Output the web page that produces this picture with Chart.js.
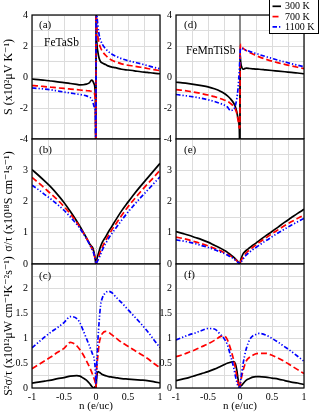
<!DOCTYPE html>
<html>
<head>
<meta charset="utf-8">
<script src="https://cdn.jsdelivr.net/npm/chart.js@4/dist/chart.umd.min.js"></script>
<style>
  html, body { margin: 0; padding: 0; background: #fff; }
  #wrap { position: relative; width: 321px; height: 414px; overflow: hidden; }
  #wrap canvas { position: absolute; left: 0; top: 0; }
</style>
</head>
<body>
<div id="wrap">
  <canvas id="pa" width="321" height="414"></canvas>
  <canvas id="pb" width="321" height="414"></canvas>
  <canvas id="pc" width="321" height="414"></canvas>
  <canvas id="pd" width="321" height="414"></canvas>
  <canvas id="pe" width="321" height="414"></canvas>
  <canvas id="pf" width="321" height="414"></canvas>
</div>
<script>
// ---------------- DATA ----------------
const tempLabels = ['300 K', '700 K', '1100 K'];
// carrier concentration n (e/uc)
const nGrid = [-1, -0.9, -0.8, -0.7, -0.6, -0.5, -0.4, -0.3, -0.25, -0.2, -0.15, -0.1, -0.07, -0.05, -0.03, -0.01, -0.002,
               0.002, 0.01, 0.03, 0.05, 0.07, 0.1, 0.15, 0.2, 0.25, 0.3, 0.4, 0.5, 0.6, 0.7, 0.8, 0.9, 1];
// Fermi level reference line
const fermiN = [0, 0];
const fermiS = [-4, 4];

// (a) FeTaSb  S (x10^2 uV/K)
const sTa300  = [-0.13,-0.17,-0.21,-0.26,-0.31,-0.36,-0.42,-0.48,-0.51,-0.5,-0.46,-0.36,-0.2,-0.26,-0.45,-1.2,-6,
                 4.5,2.6,1.6,1.2,1.0,0.9,0.8,0.7,0.64,0.6,0.5,0.45,0.4,0.34,0.3,0.25,0.21];
const sTa700  = [-0.55,-0.58,-0.62,-0.66,-0.7,-0.74,-0.78,-0.82,-0.84,-0.86,-0.88,-0.9,-0.92,-0.95,-1.05,-1.6,-6,
                 6,3.6,2.6,2.15,1.9,1.65,1.4,1.2,1.08,0.99,0.85,0.76,0.7,0.63,0.55,0.48,0.41];
const sTa1100 = [-0.71,-0.74,-0.78,-0.83,-0.9,-0.97,-1.03,-1.1,-1.13,-1.17,-1.22,-1.3,-1.42,-1.6,-1.9,-2.4,-6,
                 6,4.5,3.3,2.7,2.4,2.1,1.82,1.62,1.47,1.36,1.18,1.05,0.95,0.85,0.74,0.63,0.53];
// (d) FeMnTiSb  S
const sMn300  = [-0.34,-0.38,-0.43,-0.49,-0.56,-0.64,-0.76,-0.93,-1.05,-1.2,-1.4,-1.68,-1.95,-2.25,-2.7,-3.4,-6,
                 1.5,1.0,0.6,0.5,0.54,0.57,0.55,0.53,0.51,0.5,0.46,0.42,0.38,0.34,0.3,0.26,0.21];
const sMn700  = [-0.81,-0.86,-0.92,-0.99,-1.07,-1.16,-1.27,-1.4,-1.48,-1.56,-1.7,-1.9,-2.1,-2.35,-2.8,-3.3,-3.2,
                 1.5,2.1,1.95,1.85,1.78,1.7,1.58,1.48,1.38,1.3,1.15,1.02,0.91,0.81,0.72,0.63,0.54];
const sMn1100 = [-1.13,-1.18,-1.24,-1.3,-1.38,-1.47,-1.58,-1.72,-1.8,-1.92,-2.15,-2.1,-1.8,-1.4,-0.7,0.5,1.2,
                 1.6,1.85,1.85,1.8,1.76,1.72,1.65,1.58,1.52,1.45,1.32,1.2,1.08,0.97,0.86,0.76,0.66];
// (b) FeTaSb  sigma/tau (x10^18 S/cm/s)
const gTa300  = [3.02,2.84,2.65,2.45,2.22,1.97,1.68,1.37,1.2,1.02,0.84,0.65,0.57,0.51,0.36,0.12,0.02,
                 0.03,0.12,0.28,0.42,0.55,0.7,0.87,1.05,1.21,1.38,1.7,1.98,2.25,2.5,2.74,2.98,3.22];
const gTa700  = [2.77,2.6,2.42,2.24,2.05,1.84,1.6,1.33,1.17,1.0,0.83,0.65,0.52,0.45,0.33,0.12,0.02,
                 0.02,0.06,0.17,0.28,0.4,0.55,0.75,0.93,1.1,1.25,1.55,1.83,2.08,2.32,2.55,2.77,3.0];
const gTa1100 = [2.52,2.38,2.22,2.07,1.9,1.72,1.5,1.27,1.13,0.98,0.81,0.63,0.5,0.42,0.3,0.12,0.02,
                 0.01,0.04,0.12,0.2,0.3,0.45,0.65,0.83,0.98,1.12,1.4,1.66,1.9,2.13,2.35,2.57,2.79];
// (e) FeMnTiSb  sigma/tau
const gMn300  = [1.04,0.98,0.92,0.85,0.78,0.7,0.6,0.5,0.44,0.38,0.3,0.22,0.16,0.12,0.07,0.02,0,
                 0.02,0.12,0.24,0.33,0.38,0.44,0.52,0.6,0.67,0.75,0.9,1.04,1.19,1.34,1.48,1.62,1.75];
const gMn700  = [0.86,0.82,0.77,0.71,0.65,0.58,0.5,0.42,0.37,0.32,0.26,0.19,0.14,0.1,0.06,0.02,0,
                 0.01,0.07,0.16,0.24,0.29,0.36,0.45,0.53,0.61,0.69,0.83,0.97,1.1,1.23,1.35,1.46,1.57];
const gMn1100 = [0.77,0.74,0.7,0.65,0.59,0.53,0.46,0.38,0.34,0.29,0.23,0.17,0.12,0.09,0.05,0.02,0,
                 0.01,0.04,0.1,0.16,0.22,0.29,0.38,0.46,0.53,0.6,0.74,0.87,1.0,1.12,1.24,1.35,1.46];
// (c) FeTaSb  S^2 sigma/tau (x10^12 uW/cm/K^2/s)
const pTa300  = [0.1,0.12,0.14,0.16,0.19,0.21,0.24,0.25,0.24,0.2,0.16,0.09,0.04,0.01,0.0,0.03,0.0,
                 0.05,0.2,0.33,0.32,0.3,0.27,0.25,0.23,0.22,0.21,0.19,0.18,0.17,0.16,0.15,0.13,0.1];
const pTa700  = [0.39,0.47,0.55,0.63,0.72,0.8,0.92,0.85,0.77,0.67,0.55,0.42,0.33,0.26,0.19,0.1,0.02,
                 0.05,0.35,0.65,0.9,1.02,1.1,1.14,1.12,1.07,1.02,0.92,0.84,0.76,0.68,0.6,0.5,0.41];
const pTa1100 = [0.81,0.92,1.03,1.13,1.22,1.32,1.44,1.4,1.31,1.16,1.0,0.84,0.74,0.67,0.6,0.35,0.08,
                 0.1,0.4,0.97,1.35,1.65,1.82,1.92,1.95,1.92,1.85,1.72,1.58,1.44,1.3,1.15,0.98,0.81];
// (f) FeMnTiSb  S^2 sigma/tau
const pMn300  = [0.15,0.18,0.21,0.25,0.29,0.33,0.38,0.44,0.47,0.5,0.52,0.53,0.48,0.36,0.18,0.02,0,
                 0.02,0.04,0.06,0.09,0.12,0.16,0.19,0.22,0.23,0.23,0.22,0.2,0.18,0.15,0.12,0.1,0.07];
const pMn700  = [0.63,0.67,0.72,0.77,0.83,0.89,0.96,1.04,1.05,0.98,0.8,0.57,0.38,0.23,0.1,0.02,0,
                 0.03,0.12,0.25,0.36,0.45,0.55,0.62,0.66,0.69,0.7,0.7,0.66,0.6,0.53,0.45,0.37,0.29];
const pMn1100 = [0.97,1.02,1.07,1.11,1.16,1.2,1.19,1.07,1.0,0.88,0.66,0.42,0.23,0.12,0.03,0,0,
                 0.05,0.15,0.33,0.5,0.64,0.8,0.97,1.05,1.08,1.1,1.07,1.0,0.92,0.83,0.74,0.64,0.54];

// ---------------- STYLE / LAYOUT ----------------
const SERIF = "'Liberation Serif', 'Times New Roman', 'DejaVu Serif', serif";
const lineStyles = [
  { borderColor: '#000000', borderWidth: 1.7, borderDash: [], order: 2 },
  { borderColor: '#ff0000', borderWidth: 1.7, borderDash: [6, 3], order: 1 },
  { borderColor: '#0000ff', borderWidth: 1.7, borderDash: [4.5, 2, 1.3, 2, 1.3, 2], order: 0 }
];
const W = 321, H = 414;
const rowTop = [15, 139, 264], rowBottom = [139, 264, 388];
const colLeft = [32, 176], colRight = [160, 304];
const yAxisW = [32, 26];
const xAxisH = [0, 0, 26];

const fmt = v => String(Math.round(v * 1000) / 1000);

const boxPlugin = {
  id: 'panelBox',
  afterDatasetsDraw(chart) {
    const { ctx, chartArea: a } = chart;
    ctx.save();
    ctx.strokeStyle = '#000';
    ctx.lineWidth = 1.2;
    ctx.setLineDash([]);
    ctx.strokeRect(a.left, a.top, a.right - a.left, a.bottom - a.top);
    ctx.restore();
  }
};
const notesPlugin = {
  id: 'panelNotes',
  afterDraw(chart, args, opts) {
    const { ctx, chartArea: a } = chart;
    ctx.save();
    ctx.fillStyle = '#000';
    ctx.textBaseline = 'middle';
    ctx.textAlign = 'left';
    (opts.items || []).forEach(it => {
      ctx.font = it.size + 'px ' + SERIF;
      ctx.fillText(it.text, a.left + it.dx, a.top + it.dy);
    });
    ctx.restore();
  }
};
const legendPlugin = {
  id: 'tempLegend',
  afterDraw(chart, args, opts) {
    if (!opts.show) return;
    const ctx = chart.ctx;
    ctx.save();
    ctx.fillStyle = '#fff';
    ctx.fillRect(269.5, -1, 49, 34.5);
    ctx.strokeStyle = '#000';
    ctx.lineWidth = 1;
    ctx.setLineDash([]);
    ctx.strokeRect(269.5, -1, 49, 34.5);
    const rows = [6.3, 16.6, 26.9];
    chart.data.datasets.filter(d => !d.isRef).forEach((d, i) => {
      ctx.strokeStyle = d.borderColor;
      ctx.lineWidth = 1.7;
      ctx.setLineDash(d.borderDash || []);
      ctx.beginPath();
      ctx.moveTo(272.5, rows[i]);
      ctx.lineTo(281, rows[i]);
      ctx.stroke();
      ctx.setLineDash([]);
      ctx.fillStyle = '#000';
      ctx.font = '10px ' + SERIF;
      ctx.textBaseline = 'middle';
      ctx.fillText(d.label, 285, rows[i] + 0.5);
    });
    ctx.restore();
  }
};

const panels = [
  { id: 'pa', col: 0, row: 0, series: [sTa300, sTa700, sTa1100], fermi: true,
    yMin: -4, yMax: 4, yStep: 1, yShow: v => v % 2 === 0,
    title: 'S (x10²μV K⁻¹)',
    notes: [{ text: '(a)', dx: 7, dy: 10, size: 11 }, { text: 'FeTaSb', dx: 12, dy: 28, size: 11.5 }] },
  { id: 'pb', col: 0, row: 1, series: [gTa300, gTa700, gTa1100],
    yMin: 0, yMax: 4, yStep: 0.5, yShow: v => Number.isInteger(v) && v < 4,
    title: 'σ/τ (x10¹⁸S cm⁻¹s⁻¹)',
    notes: [{ text: '(b)', dx: 7, dy: 11, size: 11 }] },
  { id: 'pc', col: 0, row: 2, series: [pTa300, pTa700, pTa1100],
    yMin: 0, yMax: 2.5, yStep: 0.25, yShow: v => Number.isInteger(v * 2) && v < 2.5,
    title: 'S²σ/τ (x10¹²μW cm⁻¹K⁻²s⁻¹)',
    notes: [{ text: '(c)', dx: 7, dy: 12, size: 11 }] },
  { id: 'pd', col: 1, row: 0, series: [sMn300, sMn700, sMn1100], fermi: true, legend: true,
    yMin: -4, yMax: 4, yStep: 1, yShow: v => v % 2 === 0,
    notes: [{ text: '(d)', dx: 8, dy: 10, size: 11 }, { text: 'FeMnTiSb', dx: 10, dy: 36, size: 11.5 }] },
  { id: 'pe', col: 1, row: 1, series: [gMn300, gMn700, gMn1100],
    yMin: 0, yMax: 4, yStep: 0.5, yShow: v => Number.isInteger(v) && v < 4,
    notes: [{ text: '(e)', dx: 8, dy: 11, size: 11 }] },
  { id: 'pf', col: 1, row: 2, series: [pMn300, pMn700, pMn1100],
    yMin: 0, yMax: 2.5, yStep: 0.25, yShow: v => Number.isInteger(v * 2) && v < 2.5,
    notes: [{ text: '(f)', dx: 8, dy: 11, size: 11 }] }
];

panels.forEach(p => {
  const datasets = p.series.map((arr, i) => Object.assign({
    label: tempLabels[i],
    data: nGrid.map((x, j) => ({ x: x, y: arr[j] })),
    pointRadius: 0,
    fill: false,
    cubicInterpolationMode: 'monotone'
  }, lineStyles[i]));
  if (p.fermi) {
    datasets.push({
      label: '', isRef: true, order: 5,
      data: fermiN.map((x, j) => ({ x: x, y: fermiS[j] })),
      borderColor: '#8a8a8a', borderWidth: 2, pointRadius: 0, fill: false
    });
  }
  const bottom = p.row === 2;
  new Chart(document.getElementById(p.id), {
    type: 'line',
    data: { datasets },
    options: {
      responsive: false,
      animation: false,
      devicePixelRatio: 1,
      events: [],
      layout: {
        padding: {
          left: colLeft[p.col] - yAxisW[p.col],
          right: W - colRight[p.col],
          top: rowTop[p.row],
          bottom: H - rowBottom[p.row] - xAxisH[p.row]
        }
      },
      plugins: {
        legend: { display: false },
        tooltip: { enabled: false },
        panelNotes: { items: p.notes },
        tempLegend: { show: !!p.legend }
      },
      scales: {
        x: {
          type: 'linear', min: -1, max: 1,
          afterFit: s => { s.height = xAxisH[p.row]; },
          border: { display: false },
          grid: {
            drawTicks: false, lineWidth: 1,
            color: c => (c.tick && c.tick.value === 0) ? '#b8b8b8' : '#dcdcdc'
          },
          ticks: {
            display: bottom, stepSize: 0.25, autoSkip: false, maxRotation: 0, padding: 3,
            color: '#000', font: { family: SERIF, size: 10 },
            callback: v => Number.isInteger(v * 2) ? fmt(v) : ''
          },
          title: {
            display: bottom, text: 'n (e/uc)', color: '#000',
            font: { family: SERIF, size: 11 }, padding: { top: 0, bottom: 1 }
          }
        },
        y: {
          type: 'linear', min: p.yMin, max: p.yMax,
          afterFit: s => { s.width = yAxisW[p.col]; },
          border: { display: false },
          grid: { drawTicks: false, color: '#dcdcdc', lineWidth: 1 },
          ticks: {
            stepSize: p.yStep, autoSkip: false, padding: 4,
            color: '#000', font: { family: SERIF, size: 10 },
            callback: v => p.yShow(Math.round(v * 1000) / 1000) ? fmt(v) : ''
          },
          title: {
            display: !!p.title, text: p.title || '', color: '#000',
            font: { family: SERIF, size: 12 }, padding: { top: 2, bottom: 0 }
          }
        }
      }
    },
    plugins: [boxPlugin, notesPlugin, legendPlugin]
  });
});
</script>
</body>
</html>
